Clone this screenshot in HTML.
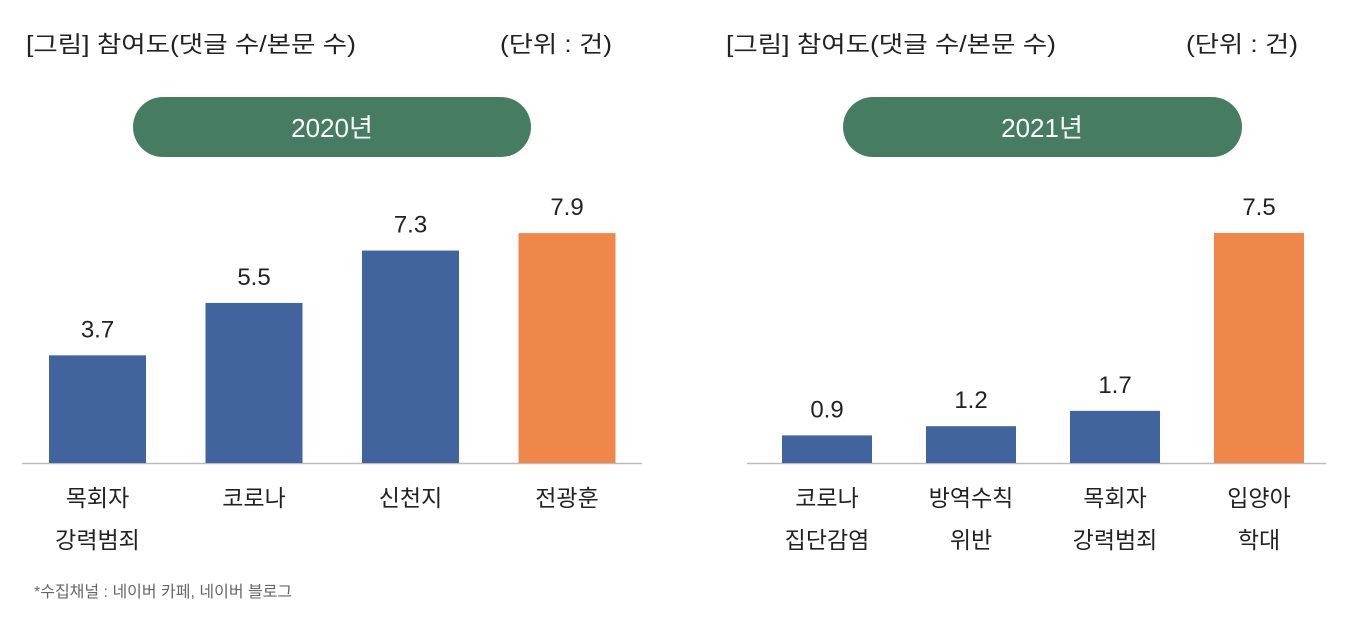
<!DOCTYPE html>
<html><head><meta charset="utf-8"><style>
body{margin:0;background:#fff;}
svg text{font-family:"Liberation Sans","Noto Sans CJK KR",sans-serif;}
</style></head><body>
<svg id="c" width="1362" height="628" xmlns="http://www.w3.org/2000/svg">
<g>
<text x="26" y="52" font-size="23" fill="#222" textLength="330" lengthAdjust="spacingAndGlyphs">[그림] 참여도(댓글 수/본문 수)</text>
<text x="500" y="52" font-size="23" fill="#222" textLength="112" lengthAdjust="spacingAndGlyphs">(단위 : 건)</text>
<rect x="133" y="97" width="398" height="60" rx="30" fill="#467d62"/>
<text x="332" y="137" font-size="26" fill="#fff" text-anchor="middle">2020년</text>
<line x1="22" x2="642" y1="463.5" y2="463.5" stroke="#bbb" stroke-width="1.5"/>
</g>
<g>
<text x="726" y="52" font-size="23" fill="#222" textLength="330" lengthAdjust="spacingAndGlyphs">[그림] 참여도(댓글 수/본문 수)</text>
<text x="1186" y="52" font-size="23" fill="#222" textLength="112" lengthAdjust="spacingAndGlyphs">(단위 : 건)</text>
<rect x="843" y="97" width="399" height="60" rx="30" fill="#467d62"/>
<text x="1042" y="137" font-size="26" fill="#fff" text-anchor="middle">2021년</text>
<line x1="747" x2="1326" y1="463.5" y2="463.5" stroke="#bbb" stroke-width="1.5"/>
</g>
<text x="34" y="597" font-size="16" fill="#666">*수집채널 : 네이버 카페, 네이버 블로그</text>
</svg>
<script>
const cats2020 = [["목회자","강력범죄"],["코로나"],["신천지"],["전광훈"]];
const vals2020 = [3.7, 5.5, 7.3, 7.9];
const highlight2020 = [false,false,false,true];
const cats2021 = [["코로나","집단감염"],["방역수칙","위반"],["목회자","강력범죄"],["입양아","학대"]];
const vals2021 = [0.9, 1.2, 1.7, 7.5];
const highlight2021 = [false,false,false,true];

const svg = document.getElementById('c');
const NS = 'http://www.w3.org/2000/svg';
function mk(tag, attrs){const e=document.createElementNS(NS,tag);for(const k in attrs)e.setAttribute(k,attrs[k]);return e;}
function draw(cats, vals, hl, x0, step, bw, pxPerUnit, prefix){
  const base=463;
  vals.forEach((v,i)=>{
    const cx = x0 + step*i;
    const h = v*pxPerUnit;
    const r = mk('rect',{x:cx-bw/2,y:base-h,width:bw,height:h,fill:hl[i]?'#f0874a':'#42649e'});
    
    
    svg.appendChild(r);
    const t = mk('text',{x:cx,y:base-h-18,'font-size':24,fill:'#222','text-anchor':'middle'});
    
    
    t.textContent = v.toFixed(1);
    svg.appendChild(t);
    cats[i].forEach((line,j)=>{
      const c = mk('text',{x:cx,y:506+j*42,'font-size':23,fill:'#222','text-anchor':'middle'});
      
      
      c.textContent = line;
      svg.appendChild(c);
    });
  });
}
draw(cats2020, vals2020, highlight2020, 97.5, 156.5, 97, 29.1, 'left');
draw(cats2021, vals2021, highlight2021, 827, 144, 90, 30.67, 'right');
</script>
</body></html>
